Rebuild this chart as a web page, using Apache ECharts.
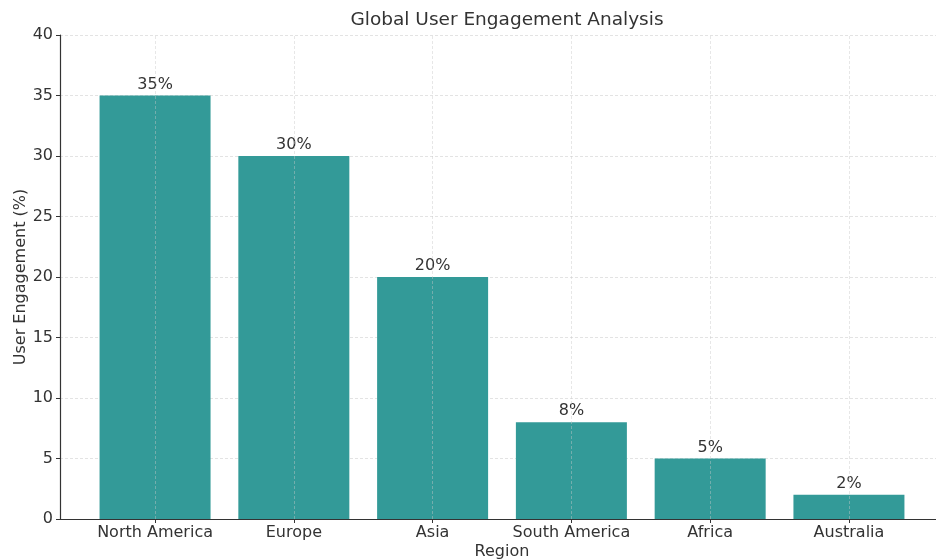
<!DOCTYPE html>
<html>
<head>
<meta charset="utf-8">
<script src="https://cdn.jsdelivr.net/npm/echarts@6/dist/echarts.min.js"></script>
<style>html,body{margin:0;padding:0;background:#fff}#c{width:936px;height:560px}</style>
</head>
<body>
<div id="c"></div>
<script>
const categories = ['North America', 'Europe', 'Asia', 'South America', 'Africa', 'Australia'];
const engagement = [35, 30, 20, 8, 5, 2];
const yTicks = [0, 5, 10, 15, 20, 25, 30, 35, 40];

const positions = categories.map((_, i) => i);
const font = 'DejaVu Sans';
const chart = echarts.init(document.getElementById('c'), null, {renderer: 'canvas'});
chart.setOption({
  animation: false,
  backgroundColor: '#fff',
  title: {
    text: 'Global User Engagement Analysis',
    left: 502, top: 6, textAlign: 'center',
    textStyle: {fontFamily: font, fontSize: 18.5, fontWeight: 'normal', color: '#333'}
  },
  grid: {left: 60, top: 35, bottom: 41, width: 884, containLabel: false, outerBoundsMode: 'none'},
  xAxis: {
    type: 'value', min: -0.685, max: 5.685,
    name: 'Region', nameLocation: 'middle', nameGap: 25, nameMoveOverlap: false,
    nameTextStyle: {fontFamily: font, fontSize: 16, color: '#333'},
    axisLine: {show: true, onZero: false, lineStyle: {color: '#333', width: 1.2}},
    axisTick: {show: true, customValues: positions, length: 4, inside: false, lineStyle: {color: '#333'}},
    axisLabel: {customValues: positions, formatter: v => categories[Math.round(v)], fontFamily: font, fontSize: 16, color: '#333', margin: 6},
    splitLine: {show: false}
  },
  yAxis: {
    type: 'value', min: 0, max: 40, interval: 5,
    name: 'User Engagement (%)', nameLocation: 'middle', nameGap: 31, nameRotate: 90, nameMoveOverlap: false,
    nameTextStyle: {fontFamily: font, fontSize: 16, color: '#333'},
    axisLine: {show: true, onZero: false, lineStyle: {color: '#333', width: 1.2}},
    axisTick: {show: true, length: 4, lineStyle: {color: '#333'}},
    axisLabel: {fontFamily: font, fontSize: 16, color: '#333', margin: 7, formatter: v => yTicks.includes(v) ? String(v) : ''},
    splitLine: {show: true, lineStyle: {color: '#dcdcdc', type: [3, 2], width: 0.8}}
  },
  series: [{
    type: 'bar',
    data: engagement.map((v, i) => [i, v]),
    barWidth: 111,
    itemStyle: {color: '#339a98'},
    label: {show: true, position: 'top', distance: 3, formatter: p => p.value[1] + '%', fontFamily: font, fontSize: 16, color: '#333'},
    markLine: {
      silent: true, symbol: 'none', label: {show: false},
      lineStyle: {color: 'rgba(200,200,200,0.55)', type: [3, 2], width: 0.8},
      data: positions.map(p => ({xAxis: p}))
    }
  }]
});
</script>
</body>
</html>
